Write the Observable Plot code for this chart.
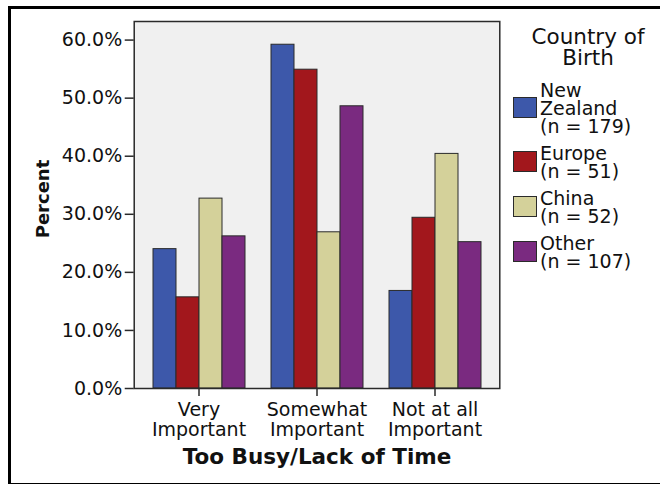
<!DOCTYPE html>
<html>
<head>
<meta charset="utf-8">
<script src="https://cdn.jsdelivr.net/npm/d3@7"></script>
<script src="https://cdn.jsdelivr.net/npm/@observablehq/plot@0.6"></script>
<style>
  html, body { margin: 0; padding: 0; background: #fff; }
  body { width: 660px; height: 484px; position: relative; overflow: hidden; font-family: "DejaVu Sans", sans-serif; }
  #border { position: absolute; left: 8px; top: 6px; width: 720px; height: 474px;
            border-left: 3px solid #000; border-top: 3px solid #000; border-bottom: 2.5px solid #000; pointer-events: none; }
  #chart { position: absolute; left: 0; top: 0; }
  #legend { position: absolute; left: 505px; top: 25.7px; width: 166px; color: #111; }
  #legend .title { text-align: center; font-size: 21.5px; line-height: 21.7px; margin-bottom: 11.5px; }
  #legend .row { display: flex; align-items: center; margin-bottom: 9px; }
  #legend .row:first-of-type { margin-bottom: 12px; }
  #legend .sw { width: 22px; height: 19px; border: 1px solid #2a2a2a; margin-left: 8px; margin-right: 3px; flex: none; }
  #legend .lab { font-size: 19px; line-height: 18px; white-space: pre; }
</style>
</head>
<body>
<div id="chart"></div>
<div id="legend"></div>
<div id="border"></div>
<script>
// ---- data ----
const categories = ["Very\nImportant", "Somewhat\nImportant", "Not at all\nImportant"];
const countries = ["New Zealand", "Europe", "China", "Other"];
const countryLabels = ["New\nZealand\n(n = 179)", "Europe\n(n = 51)", "China\n(n = 52)", "Other\n(n = 107)"];
const newZealand = [24.0, 59.2, 16.8];
const europe = [15.7, 54.9, 29.4];
const china = [32.7, 26.9, 40.4];
const other = [26.2, 48.6, 25.2];
const colors = ["#3d58aa", "#a2171c", "#d4d19a", "#7a2a80"];
const yTicks = [0, 10, 20, 30, 40, 50, 60];
const yLabel = "Percent";
const xTitle = "Too Busy/Lack of Time";
const legendTitle = "Country of\nBirth";

const series = [newZealand, europe, china, other];
const data = [];
categories.forEach((c, i) => {
  countries.forEach((k, j) => data.push({category: c, country: k, value: series[j][i]}));
});

// layout
const W = 660, H = 484, mL = 133, mR = 159, mT = 21, mB = 96;
const padIn = 0.208, padOut = 0.154;
const step = (W - mL - mR) / (categories.length - padIn + 2 * padOut);
const outerPx = padOut * step;

const chart = Plot.plot({
  width: W,
  height: H,
  marginLeft: mL,
  marginRight: mR,
  marginTop: mT,
  marginBottom: mB,
  style: {fontFamily: "DejaVu Sans", fontSize: "19px", color: "#111", background: "transparent", overflow: "visible"},
  fx: {domain: categories, paddingInner: padIn, paddingOuter: padOut, label: null},
  x: {domain: countries, padding: 0, axis: null},
  y: {domain: [0, 63.2]},
  color: {domain: countries, range: colors},
  marks: [
    Plot.frame({fill: "#f0f0f0", facet: "super", insetLeft: -outerPx, insetRight: -outerPx}),
    Plot.barY(data, {fx: "category", x: "country", y: "value", fill: "country", stroke: "#2a2a2a", strokeWidth: 1}),
    Plot.frame({stroke: "#2a2a2a", strokeWidth: 1.5, facet: "super", insetLeft: -outerPx, insetRight: -outerPx}),
    Plot.axisY({ticks: yTicks, tickFormat: d => d.toFixed(1) + "%", tickSize: 9, tickPadding: 3, label: null, stroke: "#2a2a2a", strokeWidth: 1.5, fontSize: 19, dx: -outerPx}),
    Plot.axisFx({anchor: "bottom", tickSize: 8, tickPadding: 6, label: null, stroke: "#2a2a2a", strokeWidth: 1.5, fontSize: 19, lineHeight: 1.02}),
    Plot.text([yLabel], {frameAnchor: "left", dx: -91 - outerPx, dy: -6, rotate: -90, textAnchor: "middle", lineAnchor: "middle", fontWeight: "bold", fontSize: 18, facet: "super", fill: "#111"}),
    Plot.text([xTitle], {frameAnchor: "bottom", dy: 69, lineAnchor: "middle", fontWeight: "bold", fontSize: 21.5, facet: "super", fill: "#111"})
  ]
});
document.getElementById("chart").append(chart);

// legend
const lg = document.getElementById("legend");
const t = document.createElement("div");
t.className = "title";
t.innerHTML = legendTitle.replace("\n", "<br>");
lg.append(t);
countries.forEach((k, j) => {
  const row = document.createElement("div");
  row.className = "row";
  const sw = document.createElement("div");
  sw.className = "sw";
  sw.style.background = colors[j];
  const lab = document.createElement("div");
  lab.className = "lab";
  lab.textContent = countryLabels[j];
  row.append(sw, lab);
  lg.append(row);
});
</script>
</body>
</html>
